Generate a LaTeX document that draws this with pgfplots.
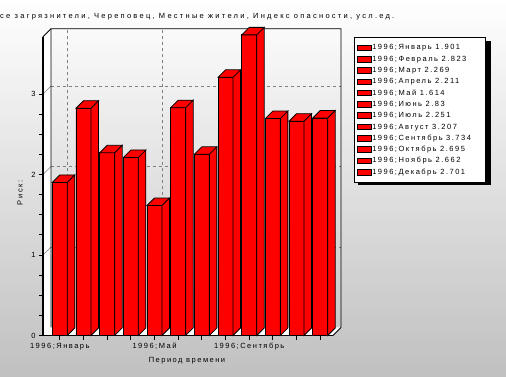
\documentclass[border=0pt]{standalone}
\usepackage{fontspec}
\setmainfont{Liberation Sans}
\newfontfamily\lfont[LetterSpace=20]{Liberation Sans}
\newfontfamily\tfont[LetterSpace=30]{Liberation Sans}
\usepackage{pgfplots}
\pgfplotsset{compat=1.18}
\definecolor{bgbot}{RGB}{192,192,192}
\definecolor{gridc}{RGB}{128,128,128}
\newcommand{\sm}{\lfont\fontsize{7.5bp}{9bp}\selectfont}
\newcommand{\tsm}{\tfont\fontsize{7.5bp}{9bp}\selectfont}
\newcommand{\legtxt}[1]{\makebox[109bp][l]{#1}}
\pgfdeclareplotmark{topside}{%
  \pgfmathsetlengthmacro{\hh}{\ry*80.51bp}%
  \pgfpathmoveto{\pgfqpoint{-7.5bp}{0bp}}%
  \pgfpathlineto{\pgfqpoint{7.5bp}{0bp}}%
  \pgfpathlineto{\pgfqpoint{15bp}{7.5bp}}%
  \pgfpathlineto{\pgfqpoint{0bp}{7.5bp}}%
  \pgfpathclose
  \pgfpathmoveto{\pgfqpoint{7.5bp}{0bp}}%
  \pgfpathlineto{\pgfqpoint{15bp}{7.5bp}}%
  \pgfpathlineto{\pgfpoint{15bp}{7.5bp-\hh}}%
  \pgfpathlineto{\pgfpoint{7.5bp}{-\hh}}%
  \pgfpathclose
  \pgfusepathqfillstroke
}
\pgfplotstableread{
x y
0 1.901
1 2.823
2 2.269
3 2.211
4 1.614
5 2.83
6 2.251
7 3.207
8 3.734
9 2.695
10 2.662
11 2.701
}\risk
\begin{document}
\begin{tikzpicture}
\shade[top color=white, bottom color=bgbot] (0,0) rectangle (506bp,377bp);
\useasboundingbox (0,0) rectangle (506bp,377bp);
\node[anchor=base west, inner sep=0] at (0bp,358.5bp) {\tsm се загрязнители, Череповец, Местные жители, Индекс опасности, усл.ед.};
\node[rotate=90, inner sep=0] at (20bp,184bp) {\sm Риск:};
\node[inner sep=0] at (187bp,16bp) {\sm Период времени};
\begin{axis}[
  at={(43bp,41.5bp)}, anchor=south west,
  scale only axis, width=290bp, height=298.69bp,
  xmin=-0.71, xmax=11.54, ymin=0, ymax=3.71,
  clip=false, axis on top,
  axis x line*=bottom, axis y line*=left,
  axis line style={line width=1.6bp, black},
  xtick={0,...,11},
  xticklabels={1996;Январь,,,,1996;Май,,,,1996;Сентябрь,,,},
  ytick={0,1,2,3},
  minor ytick={0.25,0.5,0.75,1.25,1.5,1.75,2.25,2.5,2.75},
  tick align=outside, major tick length=4bp, minor tick length=4bp,
  tick style={black, line width=0.8bp},
  ticklabel style={font=\sm},
  /pgf/number format/assume math mode=true,
  legend style={at={(rel axis cs:1.0724,0.99836)}, anchor=north west,
    draw=black, line width=0.8bp, fill=white, font=\sm,
    inner xsep=3bp, inner ysep=5.5bp, row sep=2.2bp,
    nodes={inner sep=0.8bp, text height=6bp, text depth=1.5bp}},
  legend cell align=left,
  sw/.style={legend image code/.code={\draw[fill=red, draw=black, line width=0.6bp] (0bp,-2.8bp) rectangle (13.5bp,2.8bp);}},
]
% legend shadow
\fill[black] (rel axis cs:1.0862,0.98597) rectangle (rel axis cs:1.5448,0.50387);
% floor and left wall
\fill[white] (axis cs:-0.71,0) -- (axis cs:11.54,0) -- (axis cs:11.878,0.0994) -- (axis cs:-0.372,0.0994) -- cycle;
\fill[white] (axis cs:-0.71,0) -- (axis cs:-0.372,0.0994) -- (axis cs:-0.372,3.8094) -- (axis cs:-0.71,3.71) -- cycle;
% grid on back wall
\draw[gridc, line width=0.8bp, dash pattern=on 3bp off 3bp] (axis cs:-0.372,1.0994) -- (axis cs:11.878,1.0994);
\draw[gridc, line width=0.8bp, dash pattern=on 3bp off 3bp] (axis cs:-0.372,2.0994) -- (axis cs:11.878,2.0994);
\draw[gridc, line width=0.8bp, dash pattern=on 3bp off 3bp] (axis cs:-0.372,3.0994) -- (axis cs:11.878,3.0994);
\draw[gridc, line width=0.8bp, dash pattern=on 3bp off 3bp] (axis cs:0.338,0.0994) -- (axis cs:0.338,3.8094);
\draw[gridc, line width=0.8bp, dash pattern=on 3bp off 3bp] (axis cs:4.338,0.0994) -- (axis cs:4.338,3.8094);
\draw[gridc, line width=0.8bp, dash pattern=on 3bp off 3bp] (axis cs:8.338,0.0994) -- (axis cs:8.338,3.8094);
\draw[gridc, line width=0.6bp] (axis cs:-0.71,1) -- (axis cs:-0.372,1.0994);
\draw[gridc, line width=0.6bp] (axis cs:-0.71,2) -- (axis cs:-0.372,2.0994);
\draw[gridc, line width=0.6bp] (axis cs:-0.71,3) -- (axis cs:-0.372,3.0994);
% back wall frame
\draw[black, line width=0.8bp] (axis cs:-0.372,0.0994) -- (axis cs:-0.372,3.8094) -- (axis cs:11.878,3.8094) -- (axis cs:11.878,0.0994) -- (axis cs:11.54,0);
\draw[black, line width=0.8bp] (axis cs:-0.71,3.71) -- (axis cs:-0.372,3.8094);
% bars
\addplot[ybar, bar width=15bp, bar shift=0pt, fill=red, draw=black, line width=0.8bp, forget plot] table[x=x, y=y] {\risk};
\addplot[only marks, mark=topside, mark options={fill=red, draw=black, line width=0.8bp, solid}, visualization depends on={rawy \as \ry}, forget plot] table[x=x, y=y] {\risk};
% legend
\addlegendimage{sw}\addlegendentry{\legtxt{1996;Январь 1.901}}
\addlegendimage{sw}\addlegendentry{\legtxt{1996;Февраль 2.823}}
\addlegendimage{sw}\addlegendentry{\legtxt{1996;Март 2.269}}
\addlegendimage{sw}\addlegendentry{\legtxt{1996;Апрель 2.211}}
\addlegendimage{sw}\addlegendentry{\legtxt{1996;Май 1.614}}
\addlegendimage{sw}\addlegendentry{\legtxt{1996;Июнь 2.83}}
\addlegendimage{sw}\addlegendentry{\legtxt{1996;Июль 2.251}}
\addlegendimage{sw}\addlegendentry{\legtxt{1996;Август 3.207}}
\addlegendimage{sw}\addlegendentry{\legtxt{1996;Сентябрь 3.734}}
\addlegendimage{sw}\addlegendentry{\legtxt{1996;Октябрь 2.695}}
\addlegendimage{sw}\addlegendentry{\legtxt{1996;Ноябрь 2.662}}
\addlegendimage{sw}\addlegendentry{\legtxt{1996;Декабрь 2.701}}
\end{axis}
\end{tikzpicture}
\end{document}
